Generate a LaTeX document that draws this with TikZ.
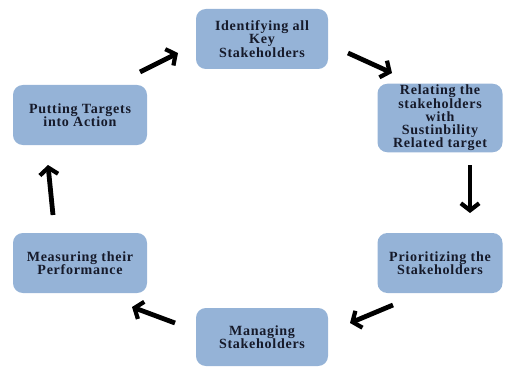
\documentclass[tikz,border=0pt]{standalone}
\usepackage{fontspec}
\setmainfont{Liberation Serif}
\newfontfamily\boxfont[LetterSpace=5]{Liberation Serif}
\usepackage{tikz}
\usetikzlibrary{arrows.meta}
\definecolor{boxblue}{HTML}{95B3D7}
\definecolor{boxtext}{HTML}{161A2A}

\begin{document}
\begin{tikzpicture}[
  stepbox/.style={rectangle,rounded corners=7pt,fill=boxblue,text=boxtext,
    align=center,inner sep=1pt,font=\boxfont\bfseries\fontsize{10}{9.4}\selectfont},
  cyclearrow/.style={line width=3.4pt,-{Straight Barb[length=5pt,width=13pt,line width=3pt]}}]
\useasboundingbox (0,0) rectangle (12.625,9.175);
\node[stepbox,minimum width=3.3cm,minimum height=1.5cm] (ident) at (6.55,8.2) {Identifying all\\Key\\Stakeholders};
\node[stepbox,minimum width=3.125cm,minimum height=1.625cm] (relat) at (11.0,6.225) {Relating the\\stakeholders\\with\\Sustinbility\\Related target};
\node[stepbox,minimum width=3.125cm,minimum height=1.5cm] (prior) at (11.0,2.6) {Prioritizing the\\Stakeholders};
\node[stepbox,minimum width=3.3cm,minimum height=1.45cm] (manag) at (6.55,0.75) {Managing\\Stakeholders};
\node[stepbox,minimum width=3.35cm,minimum height=1.5cm] (measu) at (2.0,2.6) {Measuring their\\Performance};
\node[stepbox,minimum width=3.35cm,minimum height=1.5cm] (putti) at (2.0,6.3) {Putting Targets\\into Action};
% arrow ends
\coordinate (a1s) at (3.5,7.375);  \coordinate (a1e) at (4.45,7.85);
\coordinate (a2s) at (8.7,7.85);   \coordinate (a2e) at (9.8,7.35);
\coordinate (a3s) at (11.75,5.05); \coordinate (a3e) at (11.75,3.85);
\coordinate (a4s) at (9.825,1.55); \coordinate (a4e) at (8.75,1.1);
\coordinate (a5s) at (4.375,1.1);  \coordinate (a5e) at (3.3,1.5);
\coordinate (a6s) at (1.325,3.8);  \coordinate (a6e) at (1.2,5.05);
\draw[cyclearrow] (a1s)--(a1e);
\draw[cyclearrow] (a2s)--(a2e);
\draw[cyclearrow] (a3s)--(a3e);
\draw[cyclearrow] (a4s)--(a4e);
\draw[cyclearrow] (a5s)--(a5e);
\draw[cyclearrow] (a6s)--(a6e);
\end{tikzpicture}
\end{document}
